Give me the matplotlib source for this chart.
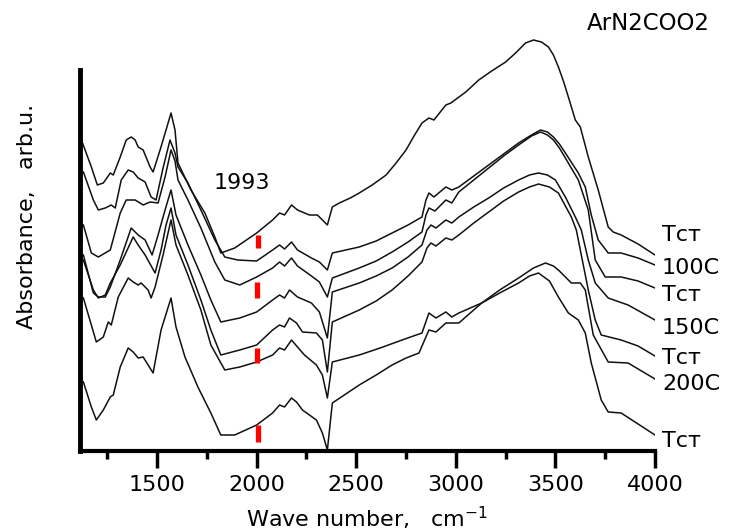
import matplotlib
matplotlib.use("Agg")
import matplotlib.pyplot as plt
from matplotlib.ticker import MultipleLocator

plt.rcParams['font.family'] = ['DejaVu Sans']

# spectra: (wave number, absorbance in arb.u.), top to bottom
curve_a = [(1120, 311), (1170, 284), (1200, 266), (1230, 268), (1265, 278), (1280, 276), (1315, 294),
           (1345, 311), (1370, 314), (1390, 311), (1405, 304), (1430, 301), (1465, 284), (1480, 279),
           (1515, 301), (1545, 321), (1570, 338), (1590, 321), (1605, 288), (1670, 261), (1740, 238),
           (1790, 214), (1820, 198), (1890, 203), (2000, 218), (2080, 231), (2115, 238), (2140, 236),
           (2175, 246), (2205, 241), (2265, 236), (2305, 236), (2340, 229), (2355, 226), (2380, 244),
           (2415, 248), (2470, 253), (2515, 258), (2580, 266), (2650, 276), (2700, 288), (2750, 301),
           (2790, 315), (2830, 328), (2865, 333), (2890, 331), (2950, 346), (2975, 348), (3050, 359),
           (3115, 371), (3180, 380), (3250, 389), (3300, 398), (3350, 408), (3390, 411), (3430, 409),
           (3465, 404), (3490, 396), (3515, 384), (3540, 370), (3565, 354), (3600, 331), (3625, 324),
           (3665, 294), (3715, 261), (3765, 224), (3790, 219), (3830, 216), (3915, 207), (4000, 196)]
curve_b = [(1130, 279), (1180, 251), (1205, 241), (1240, 243), (1270, 246), (1290, 243), (1320, 271),
           (1355, 281), (1380, 279), (1405, 273), (1440, 269), (1470, 254), (1495, 251), (1530, 283),
           (1565, 311), (1590, 298), (1605, 284), (1655, 268), (1720, 241), (1790, 211), (1840, 194),
           (1905, 191), (2000, 190), (2080, 201), (2115, 206), (2140, 202), (2175, 209), (2205, 201),
           (2275, 193), (2315, 189), (2355, 181), (2380, 198), (2515, 204), (2600, 210), (2680, 218),
           (2760, 226), (2830, 234), (2850, 251), (2865, 258), (2890, 254), (2950, 264), (2980, 261),
           (3015, 264), (3090, 275), (3165, 286), (3240, 297), (3315, 308), (3380, 316), (3425, 321),
           (3460, 319), (3490, 314), (3520, 307), (3550, 298), (3615, 278), (3650, 264), (3680, 236),
           (3715, 211), (3765, 198), (3830, 198), (3915, 193), (4000, 186)]
curve_c = [(1130, 226), (1170, 198), (1205, 194), (1265, 201), (1315, 238), (1345, 251), (1390, 251),
           (1430, 246), (1465, 249), (1505, 248), (1540, 274), (1570, 301), (1590, 290), (1605, 271),
           (1655, 251), (1720, 223), (1790, 189), (1840, 171), (1915, 166), (2000, 174), (2080, 183),
           (2115, 189), (2140, 185), (2175, 193), (2205, 185), (2275, 175), (2315, 169), (2355, 154),
           (2380, 173), (2515, 183), (2600, 190), (2680, 199), (2760, 209), (2830, 219), (2850, 236),
           (2865, 243), (2895, 240), (2950, 251), (2980, 248), (3015, 259), (3090, 271), (3165, 283),
           (3240, 295), (3315, 306), (3380, 315), (3425, 319), (3460, 316), (3490, 311), (3520, 303),
           (3550, 293), (3615, 271), (3665, 241), (3700, 191), (3750, 174), (3830, 174), (3915, 170),
           (4000, 163)]
curve_d = [(1130, 196), (1180, 158), (1205, 154), (1240, 154), (1265, 164), (1315, 191), (1370, 223),
           (1405, 216), (1440, 211), (1475, 196), (1505, 216), (1540, 241), (1570, 261), (1595, 236),
           (1655, 206), (1720, 176), (1770, 151), (1820, 129), (1915, 133), (2000, 139), (2080, 151),
           (2115, 156), (2140, 153), (2165, 161), (2205, 154), (2275, 148), (2315, 139), (2355, 113),
           (2380, 159), (2515, 168), (2600, 175), (2680, 183), (2760, 194), (2830, 206), (2855, 221),
           (2875, 226), (2900, 223), (2950, 231), (2980, 228), (3015, 234), (3090, 244), (3165, 253),
           (3240, 263), (3315, 271), (3370, 276), (3415, 278), (3460, 276), (3500, 271), (3550, 254),
           (3600, 234), (3630, 221), (3665, 191), (3700, 168), (3765, 153), (3865, 146), (4000, 131)]
curve_e = [(1130, 191), (1180, 161), (1205, 153), (1240, 156), (1265, 168), (1315, 186), (1380, 214),
           (1405, 206), (1440, 196), (1490, 178), (1520, 201), (1545, 226), (1570, 243), (1595, 216),
           (1655, 186), (1720, 151), (1770, 121), (1820, 96), (1915, 101), (2000, 106), (2080, 121),
           (2115, 126), (2140, 124), (2165, 133), (2200, 128), (2230, 119), (2300, 118), (2330, 111),
           (2355, 79), (2380, 129), (2515, 141), (2600, 150), (2680, 161), (2760, 175), (2830, 189),
           (2855, 203), (2875, 208), (2900, 205), (2950, 213), (2980, 211), (3015, 216), (3090, 228),
           (3165, 239), (3240, 250), (3315, 259), (3370, 264), (3415, 267), (3470, 264), (3515, 258),
           (3580, 234), (3605, 221), (3665, 161), (3700, 131), (3730, 116), (3830, 111), (3915, 105),
           (4000, 95)]
curve_f = [(1130, 153), (1195, 109), (1230, 114), (1255, 129), (1270, 126), (1305, 154), (1355, 173),
           (1380, 169), (1405, 166), (1420, 168), (1455, 161), (1470, 153), (1490, 164), (1530, 196),
           (1570, 231), (1595, 206), (1655, 176), (1720, 141), (1770, 106), (1840, 81), (1915, 84),
           (2000, 89), (2080, 96), (2115, 103), (2140, 101), (2175, 111), (2205, 104), (2240, 96),
           (2300, 86), (2330, 76), (2355, 53), (2380, 89), (2515, 96), (2620, 103), (2730, 111),
           (2830, 118), (2865, 138), (2900, 133), (2950, 139), (2980, 134), (3015, 138), (3130, 148),
           (3220, 161), (3315, 173), (3390, 183), (3450, 188), (3490, 185), (3515, 181), (3580, 168),
           (3625, 168), (3650, 161), (3665, 144), (3690, 116), (3765, 89), (3865, 88), (4000, 72)]
curve_g = [(1130, 69), (1170, 44), (1195, 31), (1230, 41), (1265, 54), (1280, 56), (1315, 84),
           (1355, 103), (1380, 99), (1405, 93), (1430, 94), (1455, 86), (1480, 78), (1520, 121),
           (1570, 153), (1595, 124), (1640, 94), (1705, 64), (1770, 38), (1820, 16), (1890, 16),
           (2000, 26), (2080, 38), (2115, 46), (2140, 44), (2175, 53), (2200, 49), (2230, 41),
           (2300, 31), (2330, 18), (2355, 1), (2380, 48), (2515, 66), (2600, 76), (2680, 86),
           (2750, 93), (2815, 98), (2865, 121), (2900, 119), (2950, 128), (3015, 128), (3130, 148),
           (3220, 158), (3315, 168), (3370, 175), (3415, 178), (3470, 170), (3515, 154), (3565, 138),
           (3615, 131), (3650, 118), (3680, 88), (3730, 51), (3765, 39), (3830, 38), (4000, 16)]

curves = [curve_a, curve_b, curve_c, curve_d, curve_e, curve_f, curve_g]

# labels at the right end, top to bottom, with their height in arb.u.
end_labels = ["Tст", "100C", "Tст", "150C", "Tст", "200C", "Tст"]
end_label_y = [216, 183, 156, 123, 93, 67, 10]

# red marks at 1993 cm-1
mark_x = [2005, 2000, 2000, 2008]
mark_lo = [203, 153, 88, 9]
mark_hi = [216, 169, 103, 26]

fig = plt.figure(figsize=(7.5, 5.32), dpi=100)
ax = fig.add_axes([80 / 750, 1 - 451 / 532, 575 / 750, 421 / 532])

for c in curves:
    x, y = zip(*c)
    ax.plot(x, y, color="#111111", lw=1.1)

ax.vlines(mark_x, mark_lo, mark_hi, colors="red", lw=3.8)

ax.set_xlim(1113, 4000)
ax.set_ylim(0, 421)

for s in ["top", "right"]:
    ax.spines[s].set_visible(False)
ax.spines["left"].set_linewidth(3.5)
ax.spines["bottom"].set_linewidth(3.0)
ax.spines["left"].set_bounds(0, 381)
ax.set_yticks([])
ax.xaxis.set_major_locator(MultipleLocator(500))
ax.xaxis.set_minor_locator(MultipleLocator(250))
ax.tick_params(axis="x", which="major", length=12, width=2.5, labelsize=16, pad=5)
ax.tick_params(axis="x", which="minor", length=6, width=2.5)
ax.set_xticks([1500, 2000, 2500, 3000, 3500, 4000])

ax.set_xlabel("Wave number,   cm$^{-1}$", fontsize=16, labelpad=7)
ax.set_ylabel("Absorbance,   arb.u.", fontsize=16)
ax.yaxis.set_label_coords(-0.075, 0.556)

for lab, yy in zip(end_labels, end_label_y):
    ax.text(4035, yy, lab, fontsize=16, va="center", ha="left", clip_on=False)

ax.text(3660, 427, "ArN2COO2", fontsize=16.5, va="center", ha="left", clip_on=False)
ax.text(1785, 268, "1993", fontsize=16, va="center", ha="left")

plt.savefig("out.png", dpi=100)
